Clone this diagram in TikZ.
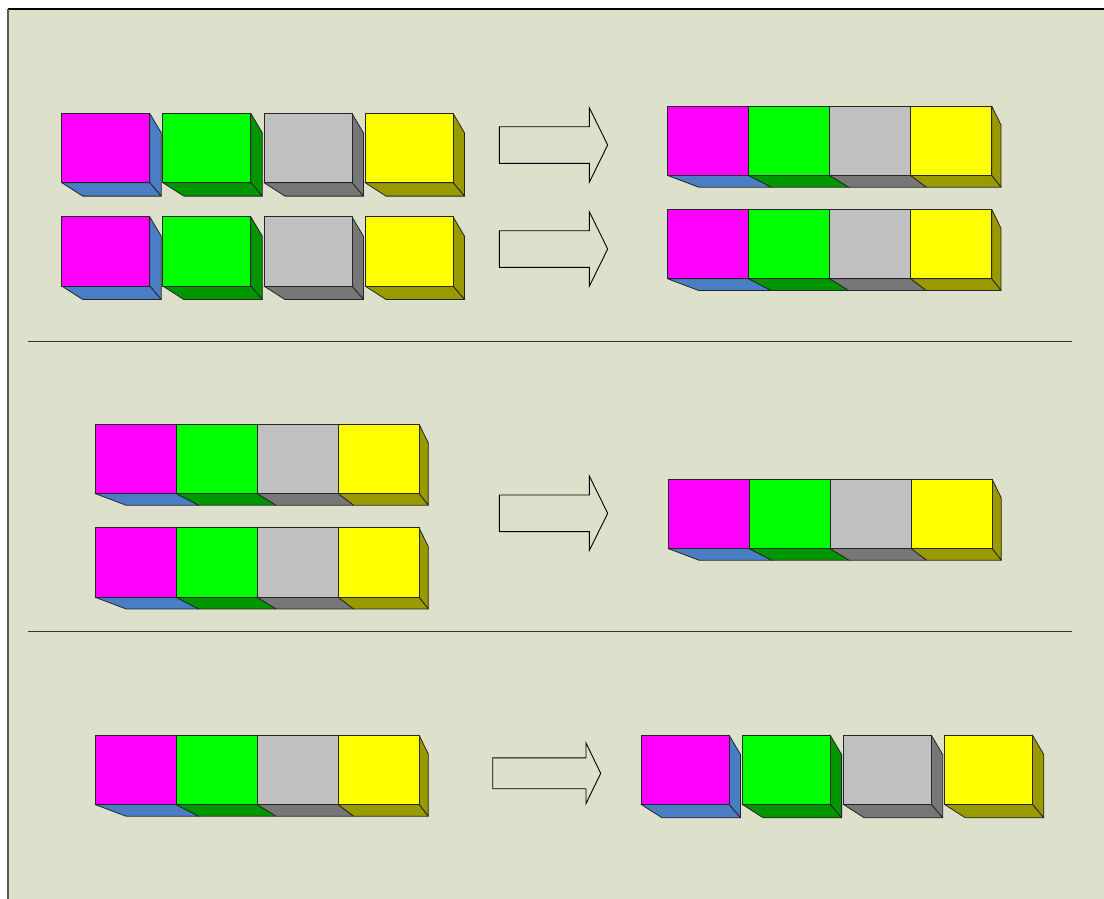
\documentclass[tikz,border=0pt]{standalone}
\usepackage{xcolor}
\usepackage{tikz}

\definecolor{bgpanel}{RGB}{221,224,202}
\definecolor{cubemagenta}{RGB}{255,0,255}
\definecolor{sidemagenta}{RGB}{74,126,196}
\definecolor{cubegreen}{RGB}{0,255,0}
\definecolor{sidegreen}{RGB}{0,150,0}
\definecolor{cubegray}{RGB}{192,192,192}
\definecolor{sidegray}{RGB}{119,119,119}
\definecolor{cubeyellow}{RGB}{255,255,0}
\definecolor{sideyellow}{RGB}{153,153,0}

\tikzset{
	cubeline/.style={draw=black!85, line width=0.8pt, line join=round},
	arrowline/.style={draw=black, line width=0.9pt, line join=miter},
	sepline/.style={draw=black!80, line width=0.7pt},
}

% free-standing cube: top-left of the front face at (#1,#2)
\newcommand{\sepcube}[4]{%
	\filldraw[cubeline, fill=#4] (#1+88,#2) -- (#1+99.5,#2+19.5) -- (#1+99.5,#2+82.8) -- (#1+88,#2+69.3) -- cycle;
	\filldraw[cubeline, fill=#4] (#1,#2+69.3) -- (#1+21,#2+82.8) -- (#1+99.5,#2+82.8) -- (#1+88,#2+69.3) -- cycle;
	\filldraw[cubeline, fill=#3] (#1,#2) rectangle (#1+88,#2+69.3);
}

% one cube of a joined row: left x, top y, left/right shift of the floor, colours
\newcommand{\rowcube}[6]{%
	\filldraw[cubeline, fill=#6] (#1,#2+69.5) -- (#1+#3,#2+81.2) -- (#1+81+#4,#2+81.2) -- (#1+81,#2+69.5) -- cycle;
	\filldraw[cubeline, fill=#5] (#1,#2) rectangle (#1+81,#2+69.5);
}

% four cubes glued together
\newcommand{\cuberow}[2]{%
	\filldraw[cubeline, fill=sideyellow] (#1+324,#2) -- (#1+333.3,#2+19) -- (#1+333.3,#2+81.2) -- (#1+324,#2+69.5) -- cycle;
	\rowcube{#1}{#2}{31}{22.7}{cubemagenta}{sidemagenta}
	\rowcube{#1+81}{#2}{22.7}{19}{cubegreen}{sidegreen}
	\rowcube{#1+162}{#2}{19}{15.7}{cubegray}{sidegray}
	\rowcube{#1+243}{#2}{15.7}{9.3}{cubeyellow}{sideyellow}
}

% block arrow: tail x, centre y, length, half shaft, half head, head length
\newcommand{\blockarrow}[6]{%
	\draw[arrowline] (#1,#2-#4) -- (#1+#3-#6,#2-#4) -- (#1+#3-#6,#2-#5) -- (#1+#3,#2)
		-- (#1+#3-#6,#2+#5) -- (#1+#3-#6,#2+#4) -- (#1,#2+#4) -- cycle;
}

\begin{document}
\begin{tikzpicture}[x=1pt, y=-1pt]
	\useasboundingbox (0,0) rectangle (1104,899);
	\fill[white] (0,0) rectangle (1104,899);
	\fill[bgpanel] (8,9) rectangle (1104,899);
	\draw[black, line width=1.3pt] (8,9) -- (1104,9);
	\draw[black!65, line width=1.3pt] (8,9) -- (8,899);

	\draw[sepline] (28,341) -- (1072,341);
	\draw[sepline] (28,631) -- (1072,631);

	% first band
	\sepcube{61.7}{113.3}{cubemagenta}{sidemagenta}
	\sepcube{162.8}{113.3}{cubegreen}{sidegreen}
	\sepcube{263.9}{113.3}{cubegray}{sidegray}
	\sepcube{365}{113.3}{cubeyellow}{sideyellow}
	\sepcube{61.7}{216.7}{cubemagenta}{sidemagenta}
	\sepcube{162.8}{216.7}{cubegreen}{sidegreen}
	\sepcube{263.9}{216.7}{cubegray}{sidegray}
	\sepcube{365}{216.7}{cubeyellow}{sideyellow}
	\blockarrow{499.3}{145}{108.4}{18.3}{37.3}{18.4}
	\blockarrow{499.3}{249}{108.4}{18.3}{37.3}{18.4}
	\cuberow{667.7}{106}
	\cuberow{667.7}{209.3}

	% second band
	\cuberow{95}{424}
	\cuberow{95}{527.7}
	\blockarrow{499.3}{513.3}{108.4}{18.3}{37.3}{18.4}
	\cuberow{668}{479}

	% third band
	\cuberow{95}{735}
	\blockarrow{492.7}{773.3}{108}{15.4}{30.3}{14.7}
	\sepcube{641}{735}{cubemagenta}{sidemagenta}
	\sepcube{742.1}{735}{cubegreen}{sidegreen}
	\sepcube{843.2}{735}{cubegray}{sidegray}
	\sepcube{944.3}{735}{cubeyellow}{sideyellow}
\end{tikzpicture}
\end{document}
